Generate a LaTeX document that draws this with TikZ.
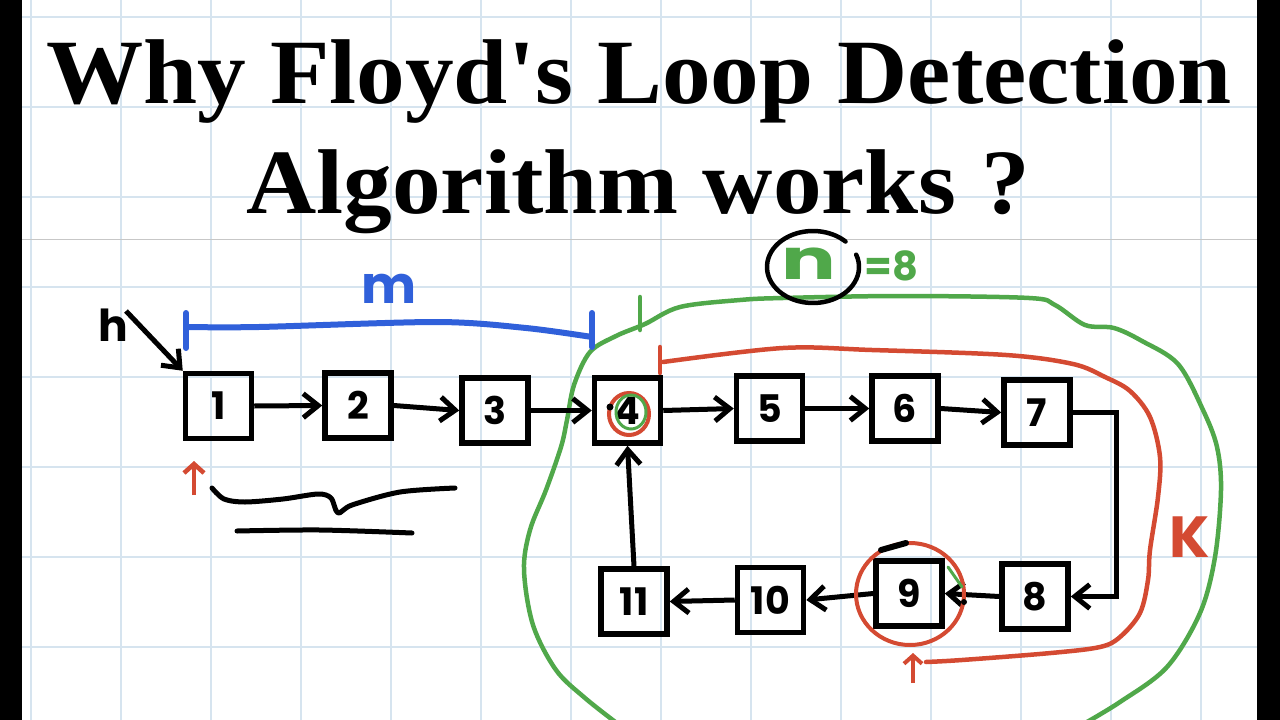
\documentclass[tikz,border=0pt]{standalone}
\usepackage{fontspec}
\setmainfont{Liberation Serif}
\newfontfamily\hand{Poppins}
\usetikzlibrary{arrows.meta}
\definecolor{gridc}{RGB}{214,228,239}
\definecolor{redc}{RGB}{212,74,50}
\definecolor{greenc}{RGB}{80,168,74}
\definecolor{bluec}{RGB}{48,96,218}
\tikzset{
  box/.style={draw=black, line width=5.5pt, minimum width=66pt, minimum height=65pt, inner sep=0pt, font=\hand\bfseries\fontsize{38}{38}\selectfont},
  link/.style={line width=5pt, -{Straight Barb[length=15pt,width=24pt]}},
  gridline/.style={draw=gridc, line width=1.5pt},
  greenline/.style={draw=greenc, line width=4.5pt, line cap=round, line join=round},
  redline/.style={draw=redc, line width=4.5pt, line cap=round, line join=round},
  blueline/.style={draw=bluec, line width=6pt, line cap=round},
  inkline/.style={draw=black, line width=5pt, line cap=round, line join=round},
  titletext/.style={anchor=base, inner sep=0pt, font=\bfseries\fontsize{92}{92}\selectfont},
  handtext/.style={inner sep=0pt, font=\hand\bfseries\fontsize{#1}{#1}\selectfont},
}
\begin{document}
\begin{tikzpicture}[x=1pt,y=-1pt]
\useasboundingbox (0,0) rectangle (1280,720);
\fill[white] (0,0) rectangle (1280,720);
% grid
\foreach \gx in {31,121,...,1201} \draw[gridline] (\gx,0) -- (\gx,720);
\foreach \gy in {17,107,...,647} \draw[gridline] (0,\gy) -- (1280,\gy);
\draw[draw=black!22, line width=1.5pt] (0,239.5) -- (1280,239.5);
% side bars
\fill[black] (0,0) rectangle (22,720);
\fill[black] (1257,0) rectangle (1280,720);
% title
\node[titletext] (t1) at (639,103) {\scalebox{1.057}[1]{Why Floyd\textquotesingle s Loop Detection}};
\node[titletext] (t2) at (638,213) {\scalebox{1.057}[1]{Algorithm works ?}};
% green loop
\draw[greenline] plot[smooth, tension=0.55] coordinates {(618,724) (585,698) (556,670) (533,625) (524,570) (530,530) (546,490) (561,447) (567,420) (574,385) (590,352) (616,336) (645,324) (680,307) (740,300) (783,298) (900,296) (1029,298) (1055,305) (1085,325) (1114,328) (1142,341) (1178,364) (1203,410) (1217,447) (1221,490) (1215,557) (1200,613) (1167,667) (1120,702) (1080,726)};
\draw[greenline] (640,297) -- (640,330);
% blue m bar
\draw[blueline] plot[smooth] coordinates {(186,327) (259,327) (437,322) (526,328) (592,337)};
\draw[blueline] (186,313) -- (186,348);
\draw[blueline] (592,313) -- (592,347);
\node[handtext=52, text=bluec] (m) at (389,289) {m};
% red k path
\draw[redline] plot[smooth, tension=0.55] coordinates {(663,362) (783,348) (872,350) (1006,355) (1073,364) (1105,377) (1130,391) (1150,417) (1160,457) (1158,497) (1150,550) (1148,580) (1140,613) (1120,637) (1100,647) (1051,653) (962,660) (926,662)};
\draw[redline] (660,347) -- (660,373);
\node[handtext=58, text=redc] (K) at (1190,537) {K};
% n = 8
\draw[draw=black, line width=4.5pt, line cap=round] (813,267) ++(-20:46 and 36) arc[start angle=-20, end angle=315, x radius=46, y radius=36];
\node[handtext=56, text=greenc] (n) at (809,264) {\scalebox{1.45}[1]{n}};
\node[handtext=40, text=greenc, anchor=west] (eq) at (864,266) {=8};
% h pointer
\node[handtext=44] (h) at (113,325) {h};
\coordinate (hs) at (126,311);
% boxes
\node[box] (n1) at (218.5,406) {1};
\node[box] (n2) at (358,405.5) {2};
\node[box] (n3) at (495,410.5) {3};
\node[box] (n4) at (627.5,410.5) {4};
\node[box] (n5) at (769.5,408.5) {5};
\node[box] (n6) at (905,408.5) {6};
\node[box] (n7) at (1037,412.5) {7};
\node[box] (n8) at (1035,596.5) {8};
\node[box] (n9) at (909,593.5) {9};
\node[box] (n10) at (770.5,600) {10};
\node[box] (n11) at (634,601.5) {11};
\draw[link] (hs) -- (n1.north west);
\draw[link] (n1.east) -- (n2.west);
\draw[link] (n2.east) -- (n3.west);
\draw[link] (n3.east) -- (n4.west);
\draw[link] (n4.east) -- (n5.west);
\draw[link] (n5.east) -- (n6.west);
\draw[link] (n6.east) -- (n7.west);
\draw[link] (n7.east) -- ++(44,0) |- (n8.east);
\draw[link] (n8.west) -- (n9.east);
\draw[link] (n9.west) -- (n10.east);
\draw[link] (n10.west) -- (n11.east);
\draw[link] (n11.north) -- (n4.south);
% marks at 4
\draw[draw=redc, line width=4pt] (629,414) ellipse[x radius=20, y radius=21];
\draw[draw=greenc, line width=3pt] (631,412) ellipse[x radius=15, y radius=17];
\fill[black] (610,407) circle[radius=3.5];
% marks at 9
\draw[draw=redc, line width=4pt] (910,594) ellipse[x radius=54, y radius=51];
\draw[inkline, line width=6pt] (881,550) -- (906,543);
\draw[draw=greenc, line width=3pt, line cap=round] (948,567) -- (962,587);
\fill[black] (964,602) circle[radius=3];
% red pointers
\coordinate (r1a) at (194,495);
\coordinate (r1b) at (194,461);
\draw[draw=redc, line width=4.5pt, -{Straight Barb[length=9pt,width=20pt]}] (r1a) -- (r1b);
\coordinate (r9a) at (913,683);
\coordinate (r9b) at (913,653);
\draw[draw=redc, line width=4pt, -{Straight Barb[length=8pt,width=18pt]}] (r9a) -- (r9b);
% brace and underline
\draw[inkline] plot[smooth, tension=0.5] coordinates {(212,488) (224,499) (245,502) (283,499) (318,494) (331,498) (338,513) (352,505) (400,492) (455,488)};
\draw[inkline] plot[smooth] coordinates {(237,531) (320,530) (412,533)};
\end{tikzpicture}
\end{document}
